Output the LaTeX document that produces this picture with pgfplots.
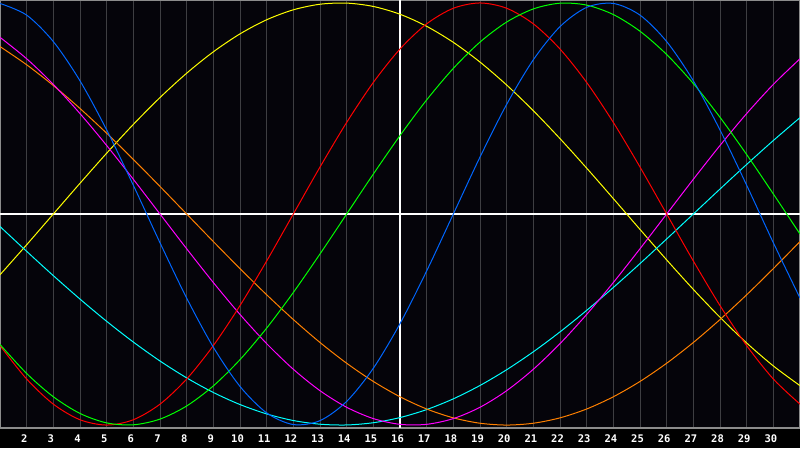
\documentclass[border=0pt]{standalone}
\usepackage{pgfplots}
\usepackage{pgfplotstable}
\pgfplotsset{compat=1.18}
\usepackage{fontspec}
\setmonofont{DejaVu Sans Mono}
\definecolor{bg}{RGB}{5,4,10}
\definecolor{gridgray}{RGB}{62,62,66}
\definecolor{framegray}{RGB}{140,140,140}
\definecolor{cblue}{RGB}{0,102,255}
\definecolor{cred}{RGB}{255,0,0}
\definecolor{cgreen}{RGB}{0,255,0}
\definecolor{cmagenta}{RGB}{255,0,255}
\definecolor{cyellow}{RGB}{255,255,0}
\definecolor{corange}{RGB}{255,128,0}
\definecolor{ccyan}{RGB}{0,255,255}
\pgfplotstableread{
d blue red green magenta yellow orange cyan
1 0.9977 -0.6235 -0.6182 0.8372 -0.2881 0.7934 -0.0592
2 0.9423 -0.7818 -0.7557 0.7357 -0.1456 0.7071 -0.1769
3 0.8170 -0.9010 -0.8660 0.6142 0 0.6088 -0.2921
4 0.6311 -0.9749 -0.9450 0.4759 0.1456 0.5 -0.4031
5 0.3984 -1 -0.9898 0.3247 0.2881 0.3827 -0.5085
6 0.1362 -0.9749 -0.9989 0.1646 0.4245 0.2588 -0.6067
7 -0.1362 -0.9010 -0.9718 0 0.5518 0.1305 -0.6965
8 -0.3984 -0.7818 -0.9096 -0.1646 0.6672 0 -0.7765
9 -0.6311 -0.6235 -0.8146 -0.3247 0.7685 -0.1305 -0.8457
10 -0.8170 -0.4339 -0.6901 -0.4759 0.8535 -0.2588 -0.9028
11 -0.9423 -0.2225 -0.5406 -0.6142 0.9204 -0.3827 -0.9473
12 -0.9977 0 -0.3717 -0.7357 0.9675 -0.5 -0.9786
13 -0.9791 0.2225 -0.1893 -0.8372 0.9940 -0.6088 -0.9960
14 -0.8879 0.4339 0 -0.9158 0.9993 -0.7071 -0.9996
15 -0.7308 0.6235 0.1893 -0.9694 0.9834 -0.7934 -0.9890
16 -0.5196 0.7818 0.3717 -0.9966 0.9465 -0.8660 -0.9646
17 -0.2698 0.9010 0.5406 -0.9966 0.8893 -0.9239 -0.9267
18 0 0.9749 0.6901 -0.9694 0.8133 -0.9659 -0.8758
19 0.2698 1 0.8146 -0.9158 0.7199 -0.9914 -0.8125
20 0.5196 0.9749 0.9096 -0.8372 0.6111 -1 -0.7378
21 0.7308 0.9010 0.9718 -0.7357 0.4894 -0.9914 -0.6528
22 0.8879 0.7818 0.9989 -0.6142 0.3572 -0.9659 -0.5586
23 0.9791 0.6235 0.9898 -0.4759 0.2174 -0.9239 -0.4566
24 0.9977 0.4339 0.9450 -0.3247 0.0730 -0.8660 -0.3482
25 0.9423 0.2225 0.8660 -0.1646 -0.0730 -0.7934 -0.2349
26 0.8170 0 0.7557 0 -0.2174 -0.7071 -0.1183
27 0.6311 -0.2225 0.6182 0.1646 -0.3572 -0.6088 0
28 0.3984 -0.4339 0.4582 0.3247 -0.4894 -0.5 0.1183
29 0.1362 -0.6235 0.2817 0.4759 -0.6111 -0.3827 0.2349
30 -0.1362 -0.7818 0.0950 0.6142 -0.7199 -0.2588 0.3482
31 -0.3984 -0.9010 -0.0950 0.7357 -0.8133 -0.1305 0.4566
}\bio
\begin{document}
\begin{tikzpicture}
\useasboundingbox (0,-20pt) rectangle (800pt,428pt);
\fill[black] (0,-20pt) rectangle (800pt,428pt);
\begin{axis}[
  scale only axis, width=800pt, height=428pt,
  at={(0,0)}, anchor=south west,
  xmin=1, xmax=31, ymin=-1.014, ymax=1.014,
  axis background/.style={fill=bg},
  axis line style={framegray, line width=1.5pt},
  xtick={2,...,30}, ytick=\empty,
  major tick length=0pt,
  xmajorgrids, major grid style={gridgray, line width=1pt},
  extra x ticks={16}, extra x tick labels={},
  extra x tick style={major grid style={white, line width=1.5pt}},
  extra y ticks={0}, extra y tick labels={},
  extra y tick style={ymajorgrids=true, major grid style={white, line width=1.5pt}},
  /pgf/number format/assume math mode=true,
  xticklabel style={font=\ttfamily\bfseries\fontsize{10.5}{12}\selectfont, text=white, anchor=center, yshift=-11pt, xshift=-2.5pt},
  every axis plot/.append style={line width=1pt, smooth, no markers},
]
\addplot[cyellow] table[x=d, y=yellow] {\bio};
\addplot[ccyan] table[x=d, y=cyan] {\bio};
\addplot[corange] table[x=d, y=orange] {\bio};
\addplot[cmagenta] table[x=d, y=magenta] {\bio};
\addplot[cred] table[x=d, y=red] {\bio};
\addplot[cgreen] table[x=d, y=green] {\bio};
\addplot[cblue] table[x=d, y=blue] {\bio};
\end{axis}
\end{tikzpicture}
\end{document}
